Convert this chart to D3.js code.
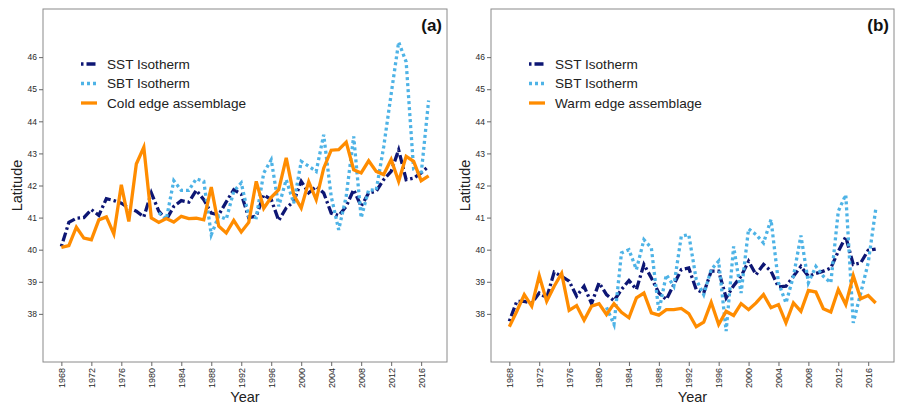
<!DOCTYPE html>
<html>
<head>
<meta charset="utf-8">
<script src="https://cdn.jsdelivr.net/npm/d3@7"></script>
<style>
    body { margin: 0; background: #fff; }
    svg { display: block; font-family: "Liberation Sans", Arial, sans-serif; }
</style>
</head>
<body>
<script>
// years on the x axis
var years = [];
for (var y = 1968; y <= 2017; y++) { years.push(y); }

var xTicks = [1968, 1972, 1976, 1980, 1984, 1988, 1992, 1996, 2000, 2004, 2008, 2012, 2016];
var yTicks = [38, 39, 40, 41, 42, 43, 44, 45, 46];

// panel (a)
var sstCold = [40.10, 40.85, 40.98, 41.00, 41.25, 41.07, 41.59, 41.53, 41.45, 41.30,
               41.20, 41.02, 41.77, 41.20, 40.93, 41.35, 41.53, 41.48, 41.85, 41.56,
               41.14, 41.09, 41.49, 41.87, 41.73, 41.00, 41.04, 41.71, 41.56, 40.91,
               41.30, 41.50, 42.13, 41.77, 41.97, 41.77, 41.14, 41.06, 41.35, 41.87,
               41.35, 41.77, 41.82, 42.18, 42.44, 43.11, 42.18, 42.23, 42.39, 42.60];
var sbtCold = [null, null, null, null, null, null, null, null, null, null,
               null, null, null, 41.15, 40.95, 42.15, 41.85, 41.85, 42.21, 42.13,
               40.47, 41.05, 40.95, 41.82, 42.08, 41.04, 41.00, 42.39, 42.80, 41.35,
               42.18, 41.45, 42.75, 42.60, 42.44, 43.58, 41.66, 40.62, 41.66, 43.53,
               40.99, 41.87, 41.85, 43.20, 44.85, 46.47, 45.85, 42.50, 42.35, 44.65];
var coldEdge = [40.07, 40.13, 40.70, 40.36, 40.31, 40.93, 41.02, 40.49, 42.02, 40.88,
                42.67, 43.19, 40.99, 40.85, 40.97, 40.86, 41.04, 40.97, 40.98, 40.93,
                41.95, 40.73, 40.52, 40.91, 40.55, 40.85, 42.13, 41.29, 41.63, 41.87,
                42.86, 41.71, 41.30, 42.12, 41.56, 42.54, 43.10, 43.12, 43.35, 42.49,
                42.39, 42.77, 42.44, 42.34, 42.81, 42.13, 42.91, 42.75, 42.15, 42.30];

// panel (b)
var sstWarm = [37.77, 38.39, 38.39, 38.34, 38.65, 38.50, 39.30, 39.17, 39.02, 38.55,
               38.86, 38.32, 38.97, 38.60, 38.41, 38.76, 39.04, 38.76, 39.54, 39.12,
               38.65, 38.45, 38.91, 39.38, 39.43, 38.76, 38.65, 39.33, 39.33, 38.50,
               38.88, 39.17, 39.64, 39.22, 39.54, 39.33, 38.84, 38.86, 39.17, 39.48,
               39.17, 39.26, 39.33, 39.43, 39.95, 40.40, 39.54, 39.59, 39.98, 40.02];
var sbtWarm = [null, null, null, null, null, null, null, null, null, null,
               null, null, null, 38.20, 37.67, 39.90, 40.00, 39.38, 40.31, 40.05,
               38.08, 39.22, 38.86, 40.42, 40.47, 39.07, 38.60, 39.38, 39.64, 37.46,
               40.10, 38.65, 40.65, 40.47, 40.21, 40.94, 38.97, 38.34, 39.17, 40.44,
               38.97, 39.48, 39.17, 38.97, 41.20, 41.71, 37.72, 38.65, 39.59, 41.25];
var warmEdge = [37.60, 38.08, 38.60, 38.24, 39.19, 38.39, 38.86, 39.26, 38.11, 38.26,
                37.80, 38.24, 38.32, 37.98, 38.32, 38.05, 37.88, 38.50, 38.65, 38.03,
                37.96, 38.13, 38.13, 38.17, 38.01, 37.60, 37.74, 38.36, 37.67, 38.08,
                37.95, 38.32, 38.13, 38.34, 38.60, 38.19, 38.29, 37.72, 38.34, 38.08,
                38.73, 38.68, 38.16, 38.06, 38.76, 38.29, 39.19, 38.47, 38.57, 38.34];

// line styles
var sstStyle = { color: "#0d1674", dash: "2.5,3,9,3" };
var sbtStyle = { color: "#4eb3e6", dash: "3,3" };
var edgeStyle = { color: "#ff8c00", dash: null };

var width = 898;
var height = 405;

var svg = d3.select("body")
            .append("svg")
            .attr("width", width)
            .attr("height", height);

drawPanel(43, 447, "(a)", "Cold edge assemblage", sstCold, sbtCold, coldEdge);
drawPanel(491, 894, "(b)", "Warm edge assemblage", sstWarm, sbtWarm, warmEdge);

function drawPanel(left, right, tag, edgeName, sst, sbt, edge) {
    var top = 9;
    var bottom = 362;

    // ggplot style expansion of the year range
    var x = d3.scaleLinear()
              .domain([1965.55, 2019.45])
              .range([left, right]);
    var y = d3.scaleLinear()
              .domain([36.5, 47.5])
              .range([bottom, top]);

    var g = svg.append("g");

    // border
    g.append("rect")
     .attr("x", left)
     .attr("y", top)
     .attr("width", right - left)
     .attr("height", bottom - top)
     .attr("fill", "none")
     .attr("stroke", "#8a8a8a")
     .attr("stroke-width", 1);

    // y axis
    var yAxis = g.append("g")
                 .attr("transform", "translate(" + left + ",0)")
                 .call(d3.axisLeft(y).tickValues(yTicks).tickSize(4).tickPadding(2));
    yAxis.select(".domain").remove();
    yAxis.selectAll("line").attr("stroke", "#666");
    yAxis.selectAll("text")
         .attr("fill", "#2a2a2a")
         .style("font-size", "8.5px")
         .style("font-family", "'Liberation Sans', Arial, sans-serif");

    // x axis
    var xAxis = g.append("g")
                 .attr("transform", "translate(0," + bottom + ")")
                 .call(d3.axisBottom(x).tickValues(xTicks).tickFormat(d3.format("d")).tickSize(4));
    xAxis.select(".domain").remove();
    xAxis.selectAll("line").attr("stroke", "#666");
    xAxis.selectAll("text")
         .attr("transform", "rotate(-90)")
         .attr("x", -6)
         .attr("y", 0)
         .attr("dy", "0.32em")
         .attr("fill", "#2a2a2a")
         .style("text-anchor", "end")
         .style("font-size", "9px")
         .style("font-family", "'Liberation Sans', Arial, sans-serif");

    // axis titles
    g.append("text")
     .attr("x", (left + right) / 2)
     .attr("y", 402)
     .attr("text-anchor", "middle")
     .style("font-size", "14.5px")
     .attr("fill", "#222")
     .text("Year");

    g.append("text")
     .attr("transform", "translate(" + (left - 21) + "," + ((top + bottom) / 2) + ") rotate(-90)")
     .attr("text-anchor", "middle")
     .style("font-size", "14.5px")
     .attr("fill", "#222")
     .text("Latitude");

    // panel tag
    g.append("text")
     .attr("x", right - 5)
     .attr("y", 31)
     .attr("text-anchor", "end")
     .style("font-size", "17px")
     .style("font-weight", "bold")
     .attr("fill", "#111")
     .text(tag);

    // lines
    var line = d3.line()
                 .defined(function(d) { return d != null; })
                 .x(function(d, i) { return x(years[i]); })
                 .y(function(d) { return y(d); });

    var series = [
        { values: sst, style: sstStyle, name: "SST Isotherm" },
        { values: sbt, style: sbtStyle, name: "SBT Isotherm" },
        { values: edge, style: edgeStyle, name: edgeName }
    ];

    series.forEach(function(s) {
        g.append("path")
         .attr("d", line(s.values))
         .attr("fill", "none")
         .attr("stroke", s.style.color)
         .attr("stroke-width", 3.3)
         .attr("stroke-linejoin", "miter")
         .attr("stroke-dasharray", s.style.dash);
    });

    // legend
    var lx = left + 38;
    series.forEach(function(s, i) {
        var ly = 64 + i * 19.5;
        g.append("line")
         .attr("x1", lx)
         .attr("x2", lx + 16)
         .attr("y1", ly)
         .attr("y2", ly)
         .attr("stroke", s.style.color)
         .attr("stroke-width", 3.3)
         .attr("stroke-dasharray", s.style.dash);
        g.append("text")
         .attr("x", lx + 26)
         .attr("y", ly)
         .attr("dy", "0.35em")
         .style("font-size", "13.6px")
         .attr("fill", "#222")
         .text(s.name);
    });
}
</script>
</body>
</html>
